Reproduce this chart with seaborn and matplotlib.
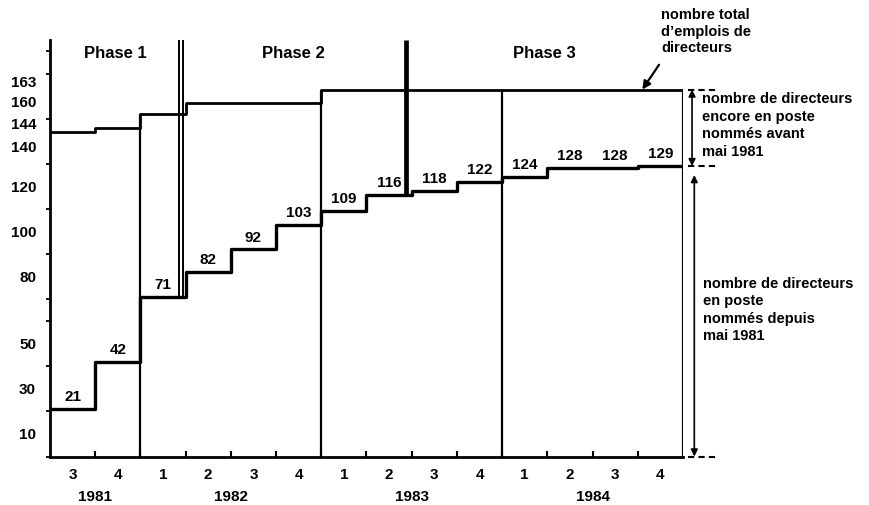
import matplotlib
matplotlib.use("Agg")
import matplotlib.pyplot as plt
import numpy as np
import pandas as pd
import seaborn as sns

# quarters on the x axis (1981 Q3 .. 1984 Q4)
trimestres = ["3", "4", "1", "2", "3", "4", "1", "2", "3", "4", "1", "2", "3", "4"]
annees = ["1981", "1982", "1983", "1984"]
trimestres_par_annee = [2, 4, 4, 4]

# number of directors appointed since May 1981, per quarter
nommes_depuis = [21, 42, 71, 82, 92, 103, 109, 116, 118, 122, 124, 128, 128, 129]
# total number of director posts, per quarter
total_emplois = [144, 146, 152, 157, 157, 157, 163, 163, 163, 163, 163, 163, 163, 163]

# phases, limits given in quarters from 1981 Q3
phases = ["Phase 1", "Phase 2", "Phase 3"]
limites_phases = [0, 2.9, 7.87, 14]

yticks_lab = [10, 30, 50, 80, 100, 120, 140, 144, 160, 163]

sns.set_theme(style="white")
plt.rcParams["font.family"] = ["Liberation Sans", "DejaVu Sans"]
plt.rcParams["font.weight"] = "bold"
plt.rcParams["text.color"] = "black"
plt.rcParams["xtick.color"] = "black"
plt.rcParams["ytick.color"] = "black"
plt.rcParams["axes.labelcolor"] = "black"

fig = plt.figure(figsize=(8.69, 5.05), dpi=100)
ax = fig.add_axes([50 / 869, 1 - 456.5 / 505, 633 / 869, 416.5 / 505])

n = len(trimestres)
bords = np.arange(n + 1)
df = pd.DataFrame({
    "x": bords,
    "depuis": nommes_depuis + [nommes_depuis[-1]],
    "total": total_emplois + [total_emplois[-1]],
})

sns.lineplot(data=df, x="x", y="total", drawstyle="steps-post", color="black", lw=2.0, ax=ax)
sns.lineplot(data=df, x="x", y="depuis", drawstyle="steps-post", color="black", lw=2.4, ax=ax)

# vertical lines at the start of each year and at the end
for b in [2, 6, 10, 14]:
    top = total_emplois[min(b, n - 1)]
    ax.vlines(b, 0, top, color="black", lw=1.6)

ytop = 185
# Phase 1 / Phase 2: double line
p12 = limites_phases[1]
lv = nommes_depuis[int(p12)]
ax.vlines([p12 - 0.045, p12 + 0.035], lv, ytop, color="black", lw=1.4, clip_on=False)
# Phase 2 / Phase 3: thick line
p23 = limites_phases[2]
ax.vlines(p23, nommes_depuis[int(p23)], ytop, color="black", lw=3.4, clip_on=False)

for i, nom in enumerate(phases):
    xc = (limites_phases[i] + limites_phases[i + 1]) / 2
    ax.text(xc, 179, nom, ha="center", va="center", fontsize=12, fontweight="bold")

# value labels above the lower steps
for i, v in enumerate(nommes_depuis):
    ax.annotate(str(v), (i + 0.5, v), xytext=(0, 3.5), textcoords="offset points",
                ha="center", va="bottom", fontsize=11, fontweight="bold")

ax.set_xlim(0, n)
ax.set_ylim(0, ytop)

ax.set_xticks(np.arange(n) + 0.5)
ax.set_xticklabels(trimestres, fontsize=11, fontweight="bold")
ax.set_xticks(np.arange(1, n), minor=True)
ax.tick_params(axis="x", which="major", length=0, pad=8.5)
ax.tick_params(axis="x", which="minor", direction="in", length=4, width=1.5, bottom=True)

ax.set_yticks(yticks_lab)
ax.set_yticklabels([str(v) for v in yticks_lab], fontsize=11, fontweight="bold")
ax.set_yticks(np.arange(0, 181, 10), minor=True)
ax.tick_params(axis="y", which="major", length=0, pad=10)
ax.tick_params(axis="y", which="minor", direction="out", length=3, width=1.3, left=True)
for lab in ax.get_yticklabels():
    if lab.get_text() in ("144", "163"):
        lab.set_va("bottom")
    elif lab.get_text() in ("140", "160"):
        lab.set_va("top")

# years under the quarters
debut = 0
for an, k in zip(annees, trimestres_par_annee):
    ax.annotate(an, xy=(debut + k / 2, 0), xycoords=("data", "axes fraction"),
                xytext=(0, -29.5), textcoords="offset points",
                ha="center", va="center", fontsize=11, fontweight="bold")
    debut += k

ax.set_xlabel("")
ax.set_ylabel("")
sns.despine(ax=ax)
ax.spines["left"].set_linewidth(2)
ax.spines["left"].set_color("black")
ax.spines["bottom"].set_linewidth(2)
ax.spines["bottom"].set_color("black")
ax.spines["bottom"].set_bounds(0, n)

# right-hand annotations
haut = total_emplois[-1]
bas = nommes_depuis[-1]
for yv in [haut, bas, 0]:
    ax.plot([n + 0.12, n + 0.72], [yv, yv], color="black", lw=1.5, ls=(0, (3, 2)), clip_on=False)
ax.annotate("", xy=(n + 0.2, bas), xytext=(n + 0.2, haut),
            arrowprops=dict(arrowstyle="<|-|>", color="black", lw=1.2, mutation_scale=10,
                            shrinkA=0, shrinkB=0), annotation_clip=False)
ax.annotate("", xy=(n + 0.25, 0), xytext=(n + 0.25, bas - 4),
            arrowprops=dict(arrowstyle="<|-|>", color="black", lw=1.2, mutation_scale=10,
                            shrinkA=0, shrinkB=0), annotation_clip=False)

ax.text(n + 0.42, haut - 1.3, "nombre de directeurs\nencore en poste\nnommés avant\nmai 1981",
        ha="left", va="top", fontsize=10.5, fontweight="bold", linespacing=1.32, clip_on=False)
ax.text(n + 0.45, 79.8, "nombre de directeurs\nen poste\nnommés depuis\nmai 1981",
        ha="left", va="top", fontsize=10.5, fontweight="bold", linespacing=1.32, clip_on=False)
ax.text(n - 0.48, 199, "nombre total\nd’emplois de\ndirecteurs",
        ha="left", va="top", fontsize=10.5, fontweight="bold", linespacing=1.22, clip_on=False)
ax.annotate("", xy=(n - 0.9, haut), xytext=(n - 0.53, 174),
            arrowprops=dict(arrowstyle="-|>", color="black", lw=1.6, mutation_scale=12,
                            shrinkA=0, shrinkB=0), annotation_clip=False)

fig.savefig("out.png", dpi=100)
